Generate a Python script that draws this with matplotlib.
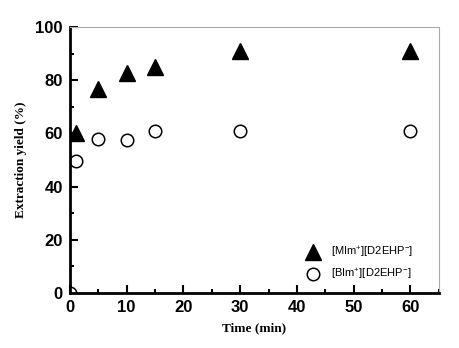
import matplotlib.pyplot as plt
from matplotlib.ticker import MultipleLocator

time_min = [0, 1, 5, 10, 15, 30, 60]
mim_yield = [0, 60.2, 76.6, 82.8, 85.1, 91.1, 91.1]
bim_yield = [0, 49.6, 57.9, 57.4, 60.9, 61.1, 61.1]

labels = ['[MIm$^{+}$][D2EHP$^{-}$]', '[BIm$^{+}$][D2EHP$^{-}$]']

plt.rcParams['mathtext.fontset'] = 'custom'
plt.rcParams['mathtext.rm'] = 'Liberation Sans'

fig = plt.figure(figsize=(4.6, 3.48), dpi=100)
ax = fig.add_axes([0.152, 0.158, 0.802, 0.764])

ax.plot(time_min, mim_yield, linestyle='none', marker='^', markersize=11,
        color='black', label=labels[0])
ax.plot(time_min, bim_yield, linestyle='none', marker='o', markersize=9,
        markerfacecolor='white', markeredgecolor='black', markeredgewidth=1.1,
        label=labels[1])

ax.set_xlim(0, 65)
ax.set_ylim(0, 100)
ax.xaxis.set_major_locator(MultipleLocator(10))
ax.xaxis.set_minor_locator(MultipleLocator(5))
ax.yaxis.set_major_locator(MultipleLocator(20))
ax.yaxis.set_minor_locator(MultipleLocator(10))

for side in ['left', 'bottom']:
    ax.spines[side].set_linewidth(2)
for side in ['top', 'right']:
    ax.spines[side].set_linewidth(0.8)
    ax.spines[side].set_color('#aaaaaa')

ax.tick_params(which='both', direction='in', top=False, right=False, width=1.5)
ax.tick_params(which='major', length=6)
ax.tick_params(which='minor', length=3)
ax.tick_params(axis='x', which='major', pad=5)
ax.tick_params(axis='y', which='major', pad=5)
for lbl in ax.get_xticklabels() + ax.get_yticklabels():
    lbl.set_family('Liberation Sans')
    lbl.set_fontweight('bold')
    lbl.set_fontsize(12)

ax.set_xlabel('Time (min)', family='Liberation Serif', fontweight='bold', fontsize=9.5, labelpad=5)
ax.set_ylabel('Extraction yield (%)', family='Liberation Serif', fontweight='bold', fontsize=9.5, labelpad=6)

ax.legend(loc='lower right', bbox_to_anchor=(0.96, 0.0), frameon=False,
          prop={'family': 'Liberation Sans', 'size': 8},
          handletextpad=0.6, borderaxespad=0.6, labelspacing=0.6, numpoints=1)

fig.savefig('out.png', dpi=100)
